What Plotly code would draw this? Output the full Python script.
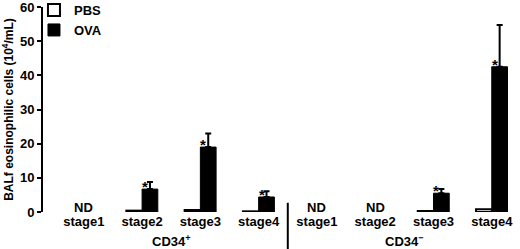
import plotly.graph_objects as go

stages = ["stage1", "stage2", "stage3", "stage4", "stage1", "stage2", "stage3", "stage4"]
pbs = [None, 0.4, 0.6, 0.2, None, None, 0.3, 0.8]
ova = [None, 6.7, 19.0, 4.4, None, None, 5.5, 42.5]
ova_err = [None, 2.1, 4.0, 1.7, None, None, 1.2, 12.2]
nd_flags = [True, False, False, False, True, True, False, False]
sig_flags = [False, True, True, True, False, False, True, True]
group_labels = ["CD34<sup>+</sup>", "CD34<sup>\u2212</sup>"]
group_centers = [1.5, 5.5]
yticks = [0, 10, 20, 30, 40, 50, 60]

xpos = list(range(len(stages)))
FONT = "Liberation Sans, Arial, sans-serif"
XR = [-0.7, 7.45]

fig = go.Figure()
fig.add_trace(go.Bar(
    x=xpos, y=pbs, name="PBS",
    marker=dict(color="white", line=dict(color="black", width=2)),
))
fig.add_trace(go.Bar(
    x=xpos, y=ova, name="OVA",
    marker=dict(color="black", line=dict(color="black", width=1)),
    error_y=dict(type="data", symmetric=False, array=ova_err,
                 arrayminus=[0 if v is not None else None for v in ova_err],
                 color="black", thickness=2, width=3),
))

annotations = []
for i, nd in enumerate(nd_flags):
    if nd:
        annotations.append(dict(x=i, y=0, xref="x", yref="y", text="ND",
                                showarrow=False, yanchor="middle", yshift=5,
                                font=dict(family=FONT, size=13, color="black", weight="bold")))
for i, s in enumerate(sig_flags):
    if s:
        annotations.append(dict(x=i + 0.05, y=ova[i], xref="x", yref="y", text="*",
                                showarrow=False, yanchor="bottom", yshift=-8,
                                font=dict(family=FONT, size=15, color="black", weight="bold")))
for lab, c in zip(group_labels, group_centers):
    annotations.append(dict(x=c, y=0, xref="x", yref="paper", text=lab,
                            showarrow=False, yanchor="middle", yshift=-29,
                            font=dict(family=FONT, size=13, color="black", weight="bold")))

div_x = (3.5 - XR[0]) / (XR[1] - XR[0])
shapes = [dict(type="line", xref="paper", yref="paper", x0=div_x, x1=div_x,
               y0=0.045, y1=-0.2, line=dict(color="black", width=2))]

fig.update_layout(
    width=520, height=249,
    margin=dict(l=43, r=2, t=7, b=37, autoexpand=False),
    paper_bgcolor="white", plot_bgcolor="white",
    barmode="group", bargap=0.46, bargroupgap=0,
    font=dict(family=FONT, size=13, color="black", weight="bold"),
    showlegend=True,
    legend=dict(x=-0.019, y=1.058, xanchor="left", yanchor="top",
                bgcolor="rgba(0,0,0,0)", font=dict(size=13, weight="bold"),
                tracegroupgap=0),
    xaxis=dict(range=XR, tickmode="array", tickvals=xpos, ticktext=stages,
               showline=False, showgrid=False, zeroline=False, ticks="",
               automargin=False, tickfont=dict(size=13, weight="bold")),
    yaxis=dict(range=[0, 60], tickmode="array", tickvals=yticks,
               showline=True, linecolor="black", linewidth=2,
               ticks="outside", ticklen=4, tickwidth=2, tickcolor="black",
               showgrid=False, zeroline=False, automargin=False,
               ticklabeloverflow="allow",
               tickfont=dict(size=13, weight="bold"),
               title=dict(text="BALf eosinophilic cells (10<sup>4</sup>/mL)",
                          font=dict(size=12, weight="bold"), standoff=6)),
    annotations=annotations, shapes=shapes,
)

fig.write_html("out.html", config={"displayModeBar": False},
               post_script="document.body.style.margin='0px';")
